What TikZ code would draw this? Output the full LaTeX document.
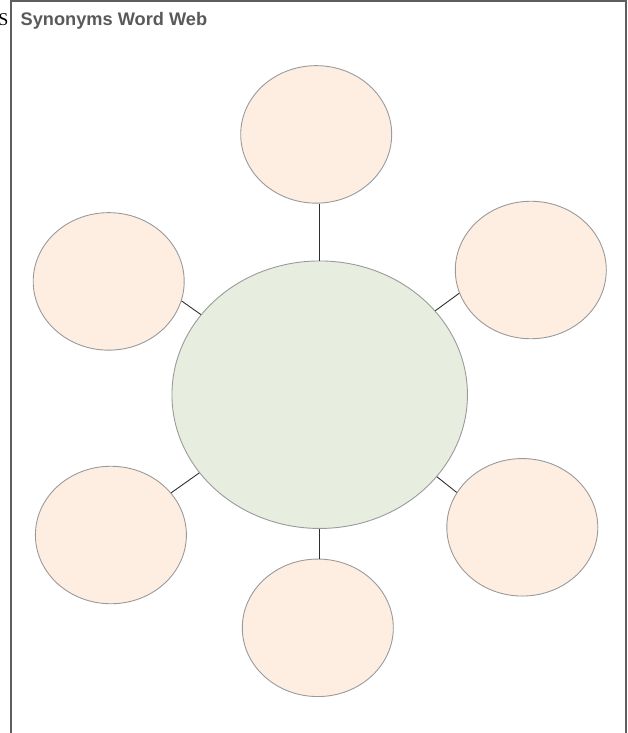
\documentclass[tikz,border=0pt]{standalone}
\usepackage{fontspec}
\setmainfont{Liberation Serif}
\newfontfamily\titlefont{Liberation Sans}
\usetikzlibrary{shapes.geometric}
\definecolor{peach}{HTML}{FEEEE2}
\definecolor{sage}{HTML}{E7EEE0}
\definecolor{rim}{HTML}{9A9A9A}
\definecolor{framegray}{HTML}{5E5E5E}
\definecolor{titlegray}{HTML}{58595B}
\definecolor{linkgray}{HTML}{2E2E2E}
\tikzset{
  bubble/.style={ellipse, draw=rim, line width=0.9pt, fill=peach, inner sep=0pt,
                 minimum width=151pt, minimum height=137.5pt},
  hub/.style={ellipse, draw=rim, line width=0.9pt, fill=sage, inner sep=0pt,
              minimum width=295.5pt, minimum height=267.5pt},
  link/.style={draw=linkgray, line width=0.9pt},
  frameline/.style={draw=framegray, line width=1.3pt}
}
\begin{document}
\begin{tikzpicture}[x=1pt,y=-1pt]
\useasboundingbox (0,0) rectangle (628,733);
% frame
\coordinate (fbl) at (11,734);
\coordinate (ftl) at (11,1);
\coordinate (ftr) at (626,1);
\coordinate (fbr) at (626,734);
\draw[frameline] (fbl) -- (ftl) -- (ftr) -- (fbr);
% cut-off letter and title
\node[anchor=base east, inner sep=0pt, font=\fontsize{18}{20}\selectfont] (cut) at (8.5,25.5) {S};
\node[anchor=base west, inner sep=0pt, text=titlegray, font=\titlefont\bfseries\fontsize{18.2}{20}\selectfont] (title) at (20.5,26) {Synonyms Word Web};
% bubbles
\node[hub] (c) at (319.7,394.7) {};
\node[bubble] (t) at (316.2,134.4) {};
\node[bubble] (ul) at (108.7,281.4) {};
\node[bubble] (ur) at (530.8,270) {};
\node[bubble] (ll) at (110.9,535) {};
\node[bubble] (lr) at (522.3,527.3) {};
\node[bubble] (b) at (317.8,627.8) {};
% connectors
\draw[link] (t.south -| c.north) -- (c.north);
\draw[link] (c.south) -- (b.north -| c.south);
\draw[link] (c.146.3) -- (ul.-15.8);
\draw[link] (c.36.5) -- (ur.-162.5);
\draw[link] (c.213.1) -- (ll.35.3);
\draw[link] (c.-35.7) -- (lr.152);
\end{tikzpicture}
\end{document}
